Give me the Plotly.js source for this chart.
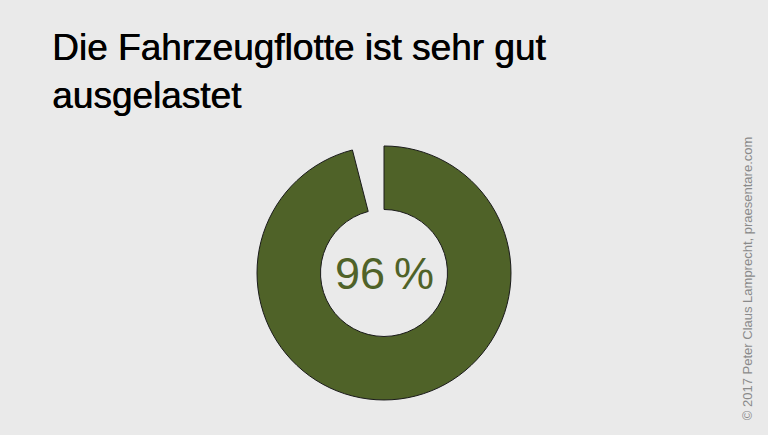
<!DOCTYPE html>
<html>
<head>
<meta charset="utf-8">
<script src="https://cdn.plot.ly/plotly-3.0.1.min.js"></script>
<style>
  html, body { margin: 0; padding: 0; background: #eaeaea; }
  #chart { width: 768px; height: 435px; }
</style>
</head>
<body>
<div id="chart"></div>
<script>
// Fleet utilisation: used share vs. idle share
var labels = ["ausgelastet", "frei"]
var shares = [96, 4]
var centerLabel = "96\u2009%"
var titleText = "Die Fahrzeugflotte ist sehr gut<br>ausgelastet"
var credit = "© 2017 Peter Claus Lamprecht, praesentare.com"

var green = "#4f6228"

// Set up the donut trace
var donut = {
  type: "pie",
  labels: labels,
  values: shares,
  sort: false,
  direction: "clockwise",
  rotation: 0,
  hole: 0.5,
  textinfo: "none",
  hoverinfo: "none",
  showlegend: false,
  domain: {x: [0.3346, 0.6654], y: [0.0805, 0.6644]},
  marker: {
    colors: [green, "rgba(0,0,0,0)"],
    line: {color: ["#1a1a1a", "rgba(0,0,0,0)"], width: [1, 0]}
  }
}

// Layout with title, centre label and credit line
var layout = {
  width: 768,
  height: 435,
  margin: {l: 0, r: 0, t: 0, b: 0},
  paper_bgcolor: "#eaeaea",
  plot_bgcolor: "#eaeaea",
  font: {family: "Liberation Sans, Arial, sans-serif"},
  title: {
    text: titleText,
    font: {
      family: "Liberation Sans, Arial, sans-serif", size: 37, color: "#000000",
      shadow: "0.6px 0 0 #000"
    },
    xref: "paper", yref: "paper",
    x: 0.0677, xanchor: "left",
    y: 0.863, yanchor: "top"
  },
  annotations: [
    {
      text: centerLabel,
      x: 0.5, y: 0.372, xref: "paper", yref: "paper",
      showarrow: false,
      font: {family: "Liberation Sans, Arial, sans-serif", size: 45, color: green}
    },
    {
      text: credit,
      x: 0.986, y: 0.36, xref: "paper", yref: "paper",
      showarrow: false, textangle: -90,
      font: {family: "Liberation Sans, Arial, sans-serif", size: 13, color: "#8a8a8a"}
    }
  ]
}

Plotly.newPlot("chart", [donut], layout, {displayModeBar: false, staticPlot: true})
</script>
</body>
</html>
